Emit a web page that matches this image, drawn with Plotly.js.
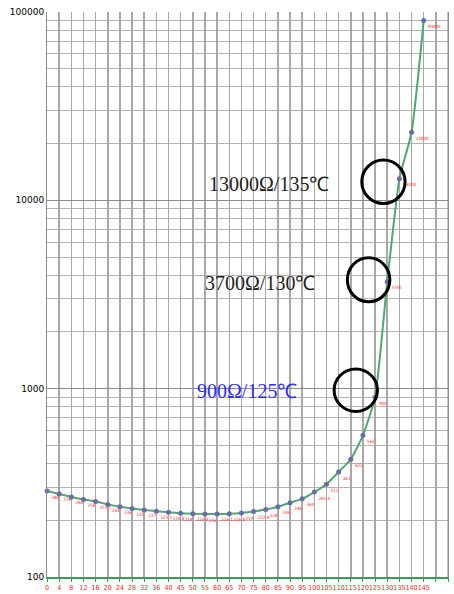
<!DOCTYPE html>
<html>
<head>
<meta charset="utf-8">
<script src="https://cdn.plot.ly/plotly-3.0.1.min.js"></script>
<style>
html,body{margin:0;padding:0;background:#fff;}
#chart{width:454px;height:594px;}
</style>
</head>
<body>
<div id="chart"></div>
<script>
// Temperature categories (°C)
const temperatures = [0,4,8,12,16,20,24,28,32,36,40,45,50,55,60,65,70,75,80,85,90,95,100,105,110,115,120,125,130,135,140,145];
// Resistance (Ω)
const resistance = [286,276,266,258,251.7,243,236,231,227,223.5,220.8,218,216.8,216,216.1,216.8,219,222.8,228,236,248,260,282.4,311,361,422,565,900,3700,13000,23000,90000];
// Point labels
const pointLabels = ["286","276","266","258","251.7","243","236","231","227","223.5","220.8","218","216.8","216","216.1","216.8","219","222.8","228","236","248","260","282.4","311","361","422","565","900","3700","13000","23000","90000"];
// Extra blank category slots on the right of the axis
const extraSlots = ["",""];
// Y tick labels
const yDecades = [100,1000,10000,100000];
const yDecadeLabels = ["100","1000","10000","100000"];
// Callout texts
const calloutTexts = ["13000Ω/135℃","3700Ω/130℃","900Ω/125℃"];

const xIdx = temperatures.map((t,i)=>i);
const allTickText = temperatures.map(String).concat(extraSlots);
const allTickVals = allTickText.map((t,i)=>i);

const minorVals = [];
for (let d = 100; d < 100000; d *= 10) {
  for (let m = 2; m <= 9; m++) minorVals.push(d*m);
}

const trace = {
  x: xIdx,
  y: resistance,
  text: pointLabels,
  type: 'scatter',
  mode: 'lines+markers+text',
  line: {color: '#4fa873', width: 2, shape: 'spline', smoothing: 0.5},
  marker: {color: '#6b6ba6', size: 5},
  textposition: 'bottom right',
  textfont: {color: '#ff2020', size: 4.5, family: 'DejaVu Sans Condensed'},
  cliponaxis: false,
  hoverinfo: 'skip'
};

const layout = {
  width: 454, height: 594,
  margin: {l: 47, r: 6, t: 12, b: 17},
  paper_bgcolor: '#ffffff',
  plot_bgcolor: '#ffffff',
  showlegend: false,
  xaxis: {
    type: 'linear',
    range: [0, allTickVals.length - 1],
    tickmode: 'array',
    tickvals: allTickVals,
    ticktext: allTickText,
    showgrid: true,
    gridcolor: '#a8a8a8',
    gridwidth: 1.5,
    zeroline: false,
    showline: true,
    linecolor: '#3d9a5e',
    linewidth: 2,
    ticks: 'outside',
    ticklen: 3,
    tickcolor: '#3d9a5e',
    tickfont: {color: '#ff2020', size: 7, family: 'DejaVu Sans Condensed'},
    tickangle: 0,
    mirror: false,
    fixedrange: true
  },
  yaxis: {
    type: 'log',
    range: [2, 5],
    tickmode: 'array',
    tickvals: yDecades,
    ticktext: yDecadeLabels,
    showgrid: true,
    gridcolor: '#8c8c8c',
    gridwidth: 1,
    minor: {tickmode: 'array', tickvals: minorVals, showgrid: true, gridcolor: '#b4b4b4', gridwidth: 1, ticks: ''},
    zeroline: false,
    showline: true,
    linecolor: '#8c8c8c',
    linewidth: 1,
    mirror: true,
    ticks: '',
    tickfont: {color: '#000000', size: 9, family: 'DejaVu Sans'},
    fixedrange: true
  },
  shapes: [
    {type: 'circle', xref: 'paper', yref: 'paper', x0: 0.785, x1: 0.893, y0: 0.661, y1: 0.738, line: {color: '#000', width: 3}},
    {type: 'circle', xref: 'paper', yref: 'paper', x0: 0.749, x1: 0.855, y0: 0.487, y1: 0.565, line: {color: '#000', width: 3}},
    {type: 'circle', xref: 'paper', yref: 'paper', x0: 0.716, x1: 0.824, y0: 0.293, y1: 0.368, line: {color: '#000', width: 3}},
    {type: 'line', xref: 'paper', yref: 'paper', x0: 1, x1: 1, y0: 0, y1: 1, line: {color: '#8c8c8c', width: 1}}
  ],
  annotations: [
    {xref: 'paper', yref: 'paper', x: 0.398, y: 0.696, xanchor: 'left', yanchor: 'middle', text: calloutTexts[0], showarrow: false, font: {family: 'Liberation Serif', size: 20, color: '#222'}},
    {xref: 'paper', yref: 'paper', x: 0.389, y: 0.520, xanchor: 'left', yanchor: 'middle', text: calloutTexts[1], showarrow: false, font: {family: 'Liberation Serif', size: 20, color: '#222'}},
    {xref: 'paper', yref: 'paper', x: 0.369, y: 0.329, xanchor: 'left', yanchor: 'middle', text: calloutTexts[2], showarrow: false, font: {family: 'Liberation Serif', size: 20, color: '#2b2bff'}}
  ]
};

Plotly.newPlot('chart', [trace], layout, {staticPlot: true, displayModeBar: false});
</script>
</body>
</html>
